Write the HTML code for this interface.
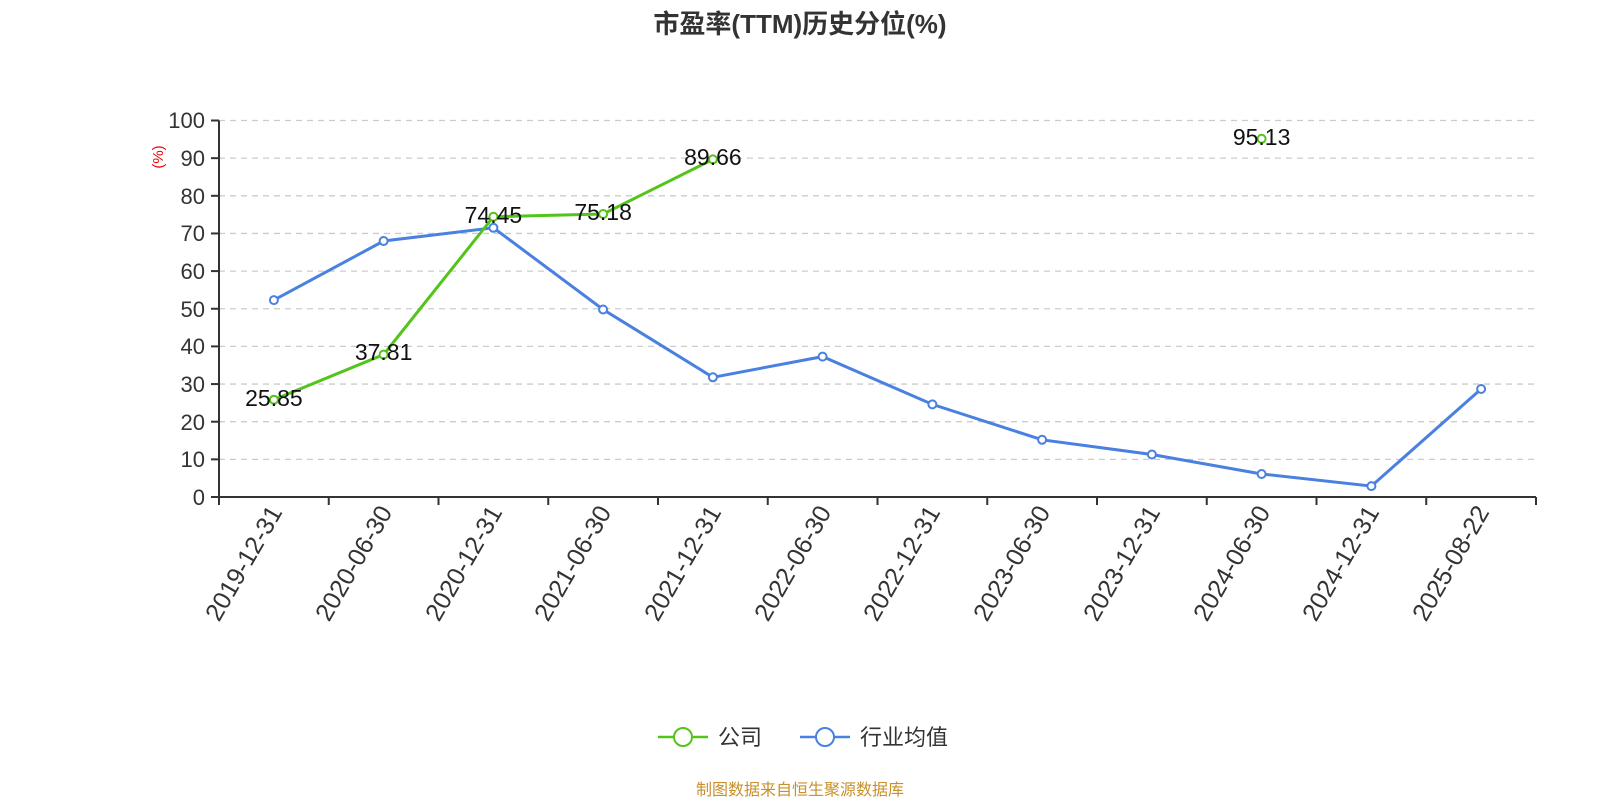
<!DOCTYPE html>
<html><head><meta charset="utf-8"><style>body{margin:0;background:#fff}svg{display:block}text{font-family:"Liberation Sans","Noto Sans CJK SC",sans-serif}</style></head><body>
<svg width="1600" height="800" xmlns="http://www.w3.org/2000/svg">
<text x="800" y="33" text-anchor="middle" font-size="26" font-weight="bold" fill="#333">市盈率(TTM)历史分位(%)</text>
<g stroke="#ccc" stroke-dasharray="6,5" stroke-width="1.3">
<line x1="219" x2="1536" y1="459.35" y2="459.35"/><line x1="219" x2="1536" y1="421.7" y2="421.7"/><line x1="219" x2="1536" y1="384.05" y2="384.05"/><line x1="219" x2="1536" y1="346.4" y2="346.4"/><line x1="219" x2="1536" y1="308.75" y2="308.75"/><line x1="219" x2="1536" y1="271.1" y2="271.1"/><line x1="219" x2="1536" y1="233.45" y2="233.45"/><line x1="219" x2="1536" y1="195.8" y2="195.8"/><line x1="219" x2="1536" y1="158.15" y2="158.15"/><line x1="219" x2="1536" y1="120.5" y2="120.5"/>
</g>
<g stroke="#333" stroke-width="2">
<line x1="219" x2="219" y1="120.5" y2="497"/><line x1="219" x2="1536" y1="497" y2="497"/>
<line x1="211" x2="219" y1="497" y2="497"/><line x1="211" x2="219" y1="459.35" y2="459.35"/><line x1="211" x2="219" y1="421.7" y2="421.7"/><line x1="211" x2="219" y1="384.05" y2="384.05"/><line x1="211" x2="219" y1="346.4" y2="346.4"/><line x1="211" x2="219" y1="308.75" y2="308.75"/><line x1="211" x2="219" y1="271.1" y2="271.1"/><line x1="211" x2="219" y1="233.45" y2="233.45"/><line x1="211" x2="219" y1="195.8" y2="195.8"/><line x1="211" x2="219" y1="158.15" y2="158.15"/><line x1="211" x2="219" y1="120.5" y2="120.5"/>
<line x1="219" x2="219" y1="497" y2="505"/><line x1="328.75" x2="328.75" y1="497" y2="505"/><line x1="438.5" x2="438.5" y1="497" y2="505"/><line x1="548.25" x2="548.25" y1="497" y2="505"/><line x1="658" x2="658" y1="497" y2="505"/><line x1="767.75" x2="767.75" y1="497" y2="505"/><line x1="877.5" x2="877.5" y1="497" y2="505"/><line x1="987.25" x2="987.25" y1="497" y2="505"/><line x1="1097" x2="1097" y1="497" y2="505"/><line x1="1206.75" x2="1206.75" y1="497" y2="505"/><line x1="1316.5" x2="1316.5" y1="497" y2="505"/><line x1="1426.25" x2="1426.25" y1="497" y2="505"/><line x1="1536" x2="1536" y1="497" y2="505"/>
</g>
<g font-size="22" fill="#333" text-anchor="end">
<text x="205" y="505">0</text><text x="205" y="467">10</text><text x="205" y="430">20</text><text x="205" y="392">30</text><text x="205" y="354">40</text><text x="205" y="317">50</text><text x="205" y="279">60</text><text x="205" y="241">70</text><text x="205" y="204">80</text><text x="205" y="166">90</text><text x="205" y="128">100</text>
</g>
<text transform="translate(163,157) rotate(-90)" text-anchor="middle" font-size="15" fill="#e00">(%)</text>
<g font-size="25" fill="#333" text-anchor="end">
<text transform="translate(283,512) rotate(-60)">2019-12-31</text>
<text transform="translate(393,512) rotate(-60)">2020-06-30</text>
<text transform="translate(503,512) rotate(-60)">2020-12-31</text>
<text transform="translate(612,512) rotate(-60)">2021-06-30</text>
<text transform="translate(722,512) rotate(-60)">2021-12-31</text>
<text transform="translate(832,512) rotate(-60)">2022-06-30</text>
<text transform="translate(941,512) rotate(-60)">2022-12-31</text>
<text transform="translate(1051,512) rotate(-60)">2023-06-30</text>
<text transform="translate(1161,512) rotate(-60)">2023-12-31</text>
<text transform="translate(1271,512) rotate(-60)">2024-06-30</text>
<text transform="translate(1380,512) rotate(-60)">2024-12-31</text>
<text transform="translate(1490,512) rotate(-60)">2025-08-22</text>
</g>
<polyline fill="none" stroke="#4a80e0" stroke-width="3" points="273.9,300.1 383.6,241 493.4,227.8 603.1,309.5 712.9,377.3 822.6,356.6 932.4,404.4 1042.1,439.8 1151.9,454.5 1261.6,474 1371.4,486.1 1481.1,389"/>
<g fill="#fff" stroke="#4a80e0" stroke-width="2">
<circle cx="273.9" cy="300.1" r="4"/><circle cx="383.6" cy="241" r="4"/><circle cx="493.4" cy="227.8" r="4"/><circle cx="603.1" cy="309.5" r="4"/><circle cx="712.9" cy="377.3" r="4"/><circle cx="822.6" cy="356.6" r="4"/><circle cx="932.4" cy="404.4" r="4"/><circle cx="1042.1" cy="439.8" r="4"/><circle cx="1151.9" cy="454.5" r="4"/><circle cx="1261.6" cy="474" r="4"/><circle cx="1371.4" cy="486.1" r="4"/><circle cx="1481.1" cy="389" r="4"/>
</g>
<polyline fill="none" stroke="#52c41a" stroke-width="3" points="273.9,399.7 383.6,354.6 493.4,216.7 603.1,214 712.9,159.4"/>
<g fill="#fff" stroke="#52c41a" stroke-width="2">
<circle cx="273.9" cy="399.7" r="4"/><circle cx="383.6" cy="354.6" r="4"/><circle cx="493.4" cy="216.7" r="4"/><circle cx="603.1" cy="214" r="4"/><circle cx="712.9" cy="159.4" r="4"/><circle cx="1261.6" cy="138.8" r="4"/>
</g>
<g font-size="23" fill="#111" text-anchor="middle">
<text x="273.9" y="406">25.85</text><text x="383.6" y="360">37.81</text><text x="493.4" y="223">74.45</text><text x="603.1" y="220">75.18</text><text x="712.9" y="165">89.66</text><text x="1261.6" y="145">95.13</text>
</g>
<line x1="658" x2="708" y1="737" y2="737" stroke="#52c41a" stroke-width="2.5"/>
<circle cx="683" cy="737" r="9" fill="#fff" stroke="#52c41a" stroke-width="2"/>
<text x="718" y="745" font-size="22" fill="#333">公司</text>
<line x1="800" x2="850" y1="737" y2="737" stroke="#4a80e0" stroke-width="2.5"/>
<circle cx="825" cy="737" r="9" fill="#fff" stroke="#4a80e0" stroke-width="2"/>
<text x="860" y="745" font-size="22" fill="#333">行业均值</text>
<text x="800" y="795" text-anchor="middle" font-size="16" fill="#c8902a">制图数据来自恒生聚源数据库</text>
</svg>
</body></html>
